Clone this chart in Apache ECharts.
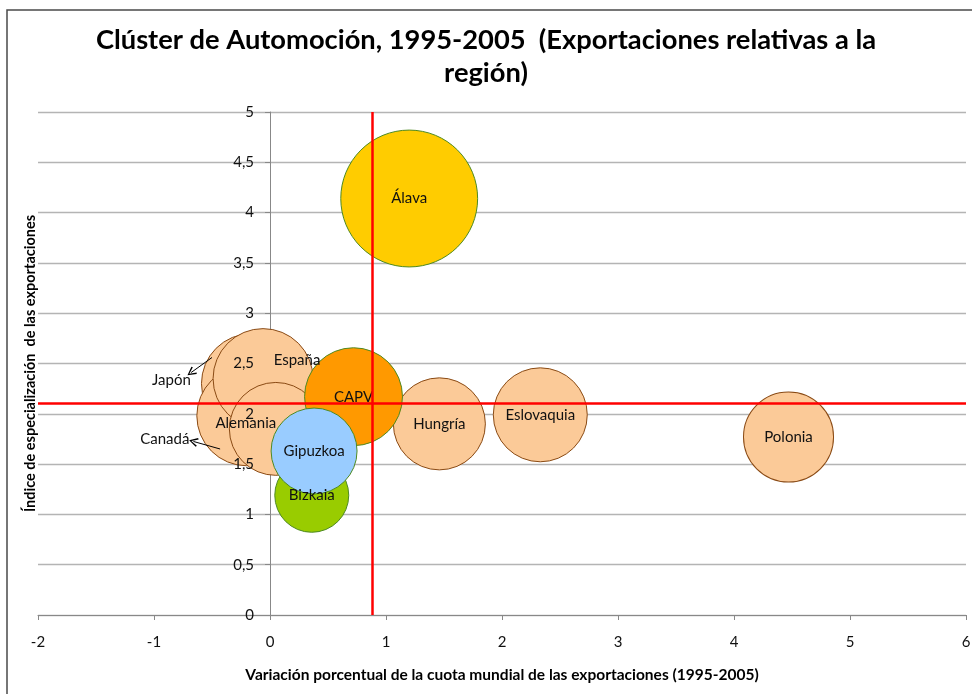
<!DOCTYPE html>
<html>
<head>
<meta charset="utf-8">
<title>Clúster de Automoción</title>
<script src="https://cdn.jsdelivr.net/npm/echarts@6/dist/echarts.min.js"></script>
<style>
html,body{margin:0;padding:0;background:#fff;}
#chart{width:972px;height:694px;}
</style>
</head>
<body>
<div id="chart"></div>
<script>
// datos (orden = orden de dibujo)
var nombres = ["Japón","Canadá","España","Alemania","Hungría","Eslovaquia","Polonia","CAPV","Álava","Bizkaia","Gipuzkoa"];
var variacionCuota = [-0.16,-0.20,-0.06,0.05,1.46,2.33,4.47,0.72,1.20,0.36,0.38];
var indiceEspec = [2.30,1.98,2.35,1.85,1.90,1.99,1.77,2.17,4.14,1.19,1.63];
var pesoExport = [2.5,2.5,2.5,2.16,2.12,2.21,2.03,2.4,4.69,1.37,1.85];
// lineas de referencia (CAPV)
var refX = 0.88;
var refY = 2.1;
// escalas de los ejes
var ejeX = [-2, 6, 1];
var ejeY = [0, 5, 0.5];
// flechas de Japon y Canada (coordenadas de datos)
var flechas = [
    [[-0.50, 2.56], [-0.68, 2.41]],
    [[-0.43, 1.65], [-0.66, 1.725]]
];

var rellenos = {"CAPV":"#FF9900","Álava":"#FFCC00","Bizkaia":"#99CC00","Gipuzkoa":"#99CCFF"};
var desplaz = {"España":[34,-18],"Alemania":[-30,-6],"Japón":[-80,-3],"Canadá":[-82,23]};
var fuente = "Lato, 'Noto Sans', sans-serif";

var gridLeft = 38, gridRight = 6;
// distancia en pixeles desde el borde izquierdo hasta x=0 (para las etiquetas del eje Y)
var anchoGrid = 972 - gridLeft - gridRight;
var offsetCero = (0 - ejeX[0]) / (ejeX[1] - ejeX[0]) * anchoGrid;

var datos = [];
for(var i=0;i<nombres.length;i++){
    var n = nombres[i];
    var esRegion = rellenos[n] != null;
    datos.push({
        name:n,
        value:[variacionCuota[i],indiceEspec[i],pesoExport[i]],
        itemStyle:{
            color: esRegion ? rellenos[n] : "#FBCA98",
            borderColor: esRegion ? "#4E8A22" : "#8A4A14",
            borderWidth:1,
            opacity:1
        },
        label:{offset: desplaz[n] || [0,0]}
    });
}

var lineasFlecha = [];
for(var k=0;k<flechas.length;k++){
    lineasFlecha.push([{coord:flechas[k][0]},{coord:flechas[k][1]}]);
}

function coma(v){ return String(v).replace(".", ","); }

var myChart = echarts.init(document.getElementById("chart"));
var option = {
    backgroundColor:"#fff",
    animation:false,
    title:{
        text:"Clúster de Automoción, 1995-2005  (Exportaciones relativas a la\nregión)",
        left:"center",
        top:19,
        textStyle:{fontFamily:fuente,fontWeight:"bold",fontSize:27.3,lineHeight:33,color:"#000"}
    },
    graphic:[{
        type:"rect",
        shape:{x:7,y:10,width:1000,height:720},
        style:{fill:null,stroke:"#4a4a4a",lineWidth:1.5},
        silent:true
    }],
    grid:{left:gridLeft,right:gridRight,top:112,bottom:79,containLabel:false,outerBoundsMode:"none"},
    xAxis:{
        type:"value",
        min:ejeX[0],max:ejeX[1],interval:ejeX[2],
        name:"Variación porcentual de la cuota mundial de las exportaciones (1995-2005)",
        nameLocation:"middle",
        nameGap:52,
        nameTextStyle:{fontFamily:fuente,fontWeight:"bold",fontSize:15.5,color:"#000"},
        axisLine:{lineStyle:{color:"#888",width:1}},
        axisTick:{show:true,length:5,lineStyle:{color:"#888"}},
        axisLabel:{margin:20,fontFamily:fuente,fontSize:15,color:"#111",formatter:coma},
        splitLine:{show:false}
    },
    yAxis:[{
        type:"value",
        min:ejeY[0],max:ejeY[1],interval:ejeY[2],
        z:0,
        axisLine:{show:true,onZero:true,lineStyle:{color:"#888",width:1}},
        axisTick:{show:true,length:5,lineStyle:{color:"#888"}},
        axisLabel:{show:false},
        splitLine:{show:true,lineStyle:{color:"#B4B4B4",width:1.3}}
    },{
        type:"value",
        position:"left",
        offset:-offsetCero,
        min:ejeY[0],max:ejeY[1],interval:ejeY[2],
        z:10,
        name:"Índice de especialización  de las exportaciones",
        nameLocation:"middle",
        nameRotate:90,
        nameGap:232,
        nameTextStyle:{fontFamily:fuente,fontWeight:"bold",fontSize:14.5,color:"#000"},
        axisLine:{show:false,onZero:false},
        axisTick:{show:false},
        axisLabel:{margin:16,fontFamily:fuente,fontSize:15,color:"#111",formatter:coma},
        splitLine:{show:false}
    }],
    series:[{
        name:"burbujas",
        type:"scatter",
        z:2,
        data:datos,
        symbolSize:function(val){ return Math.sqrt(val[2])*63.2; },
        emphasis:{disabled:true},
        label:{
            show:true,
            position:"inside",
            formatter:"{b}",
            fontFamily:fuente,
            fontSize:15,
            color:"#111"
        },
        markLine:{
            silent:true,
            symbol:["none","none"],
            label:{show:false},
            lineStyle:{color:"#FF0000",width:2.5,type:"solid"},
            emphasis:{disabled:true},
            data:[{xAxis:refX},{yAxis:refY}]
        }
    },{
        name:"flechas",
        type:"scatter",
        data:[],
        markLine:{
            silent:true,
            symbol:["none","path://M5,0 L10,9 L8.6,10 L5,2.6 L1.4,10 L0,9 Z"],
            symbolSize:[9,9],
            label:{show:false},
            lineStyle:{color:"#000",width:1,type:"solid"},
            emphasis:{disabled:true},
            data:lineasFlecha
        }
    }]
};
myChart.setOption(option);
window.onresize = myChart.resize;
</script>
</body>
</html>
